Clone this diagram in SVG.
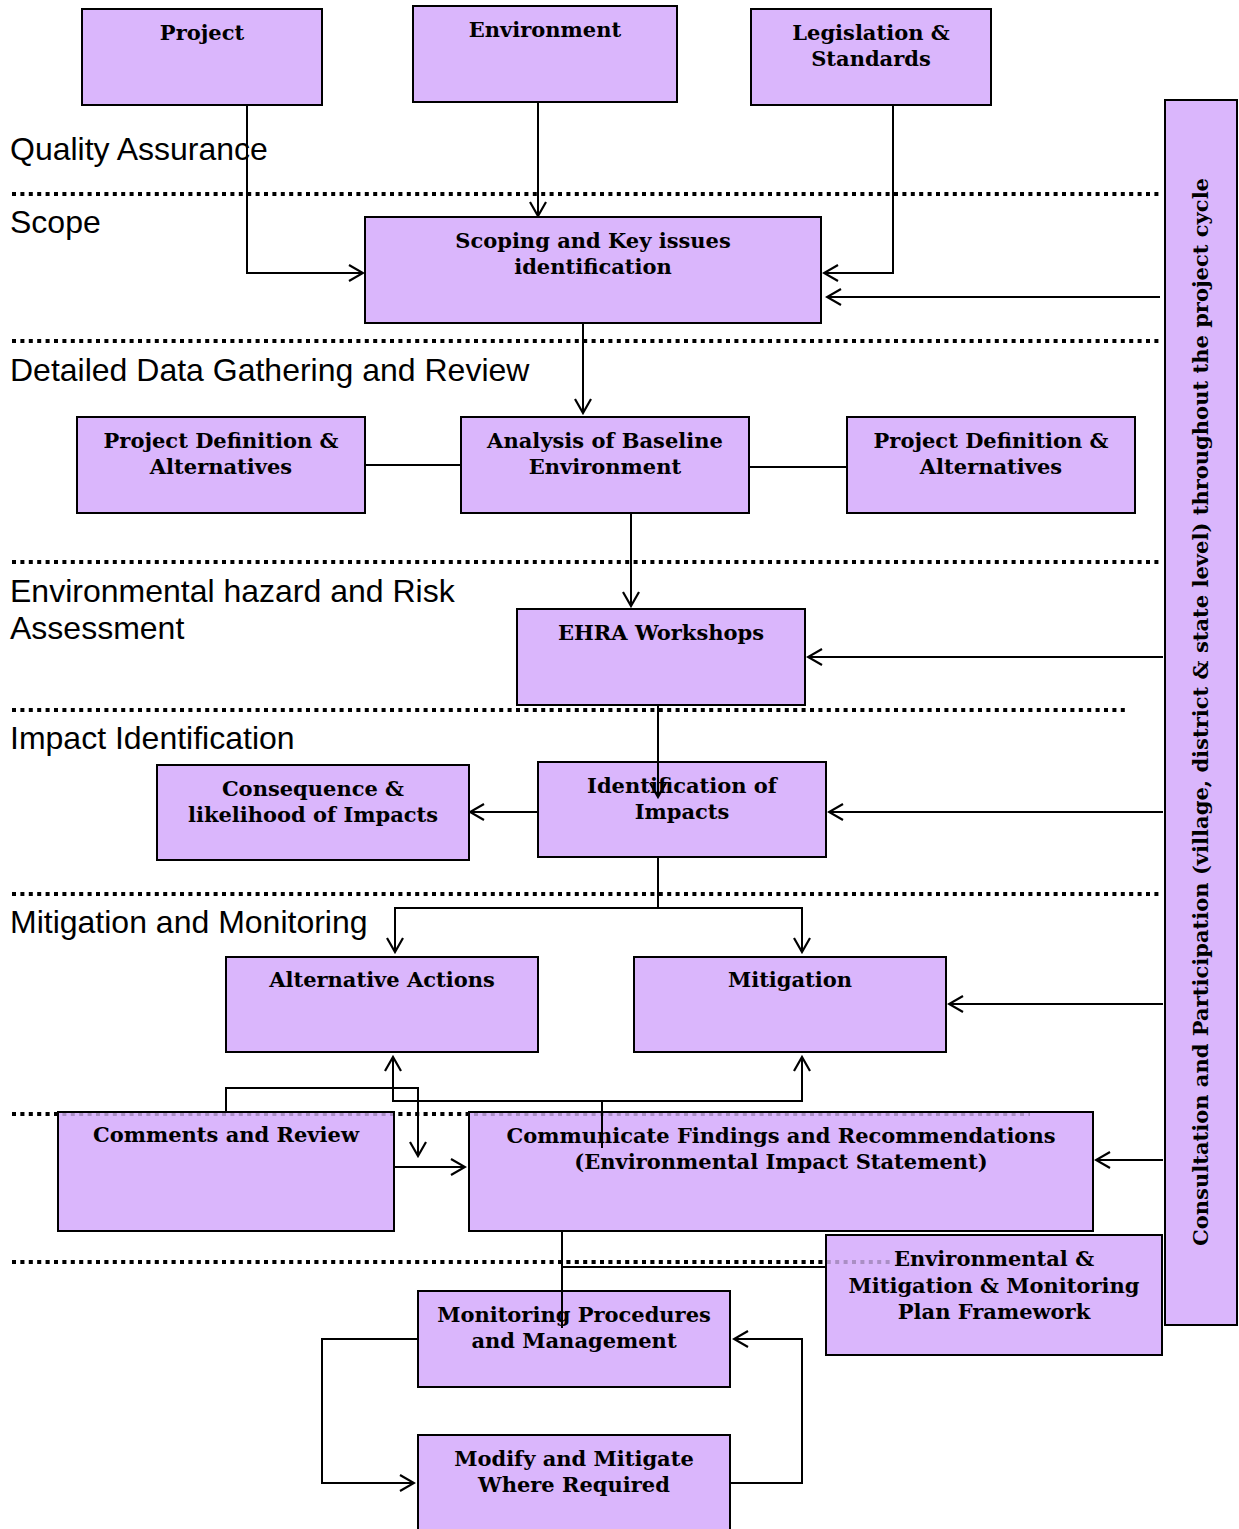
<svg xmlns="http://www.w3.org/2000/svg" width="1239" height="1529" viewBox="0 0 1239 1529">
<style>
.box{fill:#DAB6FC;stroke:#000;stroke-width:2}
.t{font-family:"DejaVu Serif","Liberation Serif",serif;font-weight:bold;font-size:21px;text-anchor:middle;fill:#000}
.lbl{font-family:"Liberation Sans",Arial,sans-serif;font-size:32px;fill:#000}
.dot{stroke:#000;stroke-width:4;stroke-dasharray:4 4.4;fill:none}
.dotl{stroke:#000;stroke-opacity:0.22;stroke-width:4;stroke-dasharray:4 4.4;fill:none}
.c{stroke:#000;stroke-width:2;fill:none}
.a{stroke:#000;stroke-width:2;fill:none;marker-end:url(#arr)}
</style>
<defs>
<marker id="arr" markerUnits="userSpaceOnUse" viewBox="-1 -10 17 20" refX="14" refY="0" markerWidth="17" markerHeight="20" orient="auto">
<path d="M0,-8 L14,0 L0,8" fill="none" stroke="#000" stroke-width="2.2"/>
</marker>
</defs>
<rect width="1239" height="1529" fill="#fff"/>
<g id="lanes">
<line class="dot" x1="12" y1="194" x2="1160" y2="194"/>
<line class="dot" x1="12" y1="341" x2="1160" y2="341"/>
<line class="dot" x1="12" y1="562" x2="1160" y2="562"/>
<line class="dot" x1="12" y1="710" x2="1127" y2="710"/>
<line class="dot" x1="12" y1="894" x2="1160" y2="894"/>
<line class="dot" x1="12" y1="1114" x2="1030" y2="1114"/>
<line class="dot" x1="12" y1="1262" x2="890" y2="1262"/>
<text class="lbl" x="10" y="160">Quality Assurance</text>
<text class="lbl" x="10" y="233">Scope</text>
<text class="lbl" x="10" y="381">Detailed Data Gathering and Review</text>
<text class="lbl" x="10" y="602">Environmental hazard and Risk</text>
<text class="lbl" x="10" y="639">Assessment</text>
<text class="lbl" x="10" y="749">Impact Identification</text>
<text class="lbl" x="10" y="933">Mitigation and Monitoring</text>
</g>
<g id="n-project"><rect class="box" x="82" y="9" width="240" height="96"/><text class="t" x="202" y="40">Project</text></g>
<g id="n-environment"><rect class="box" x="413" y="6" width="264" height="96"/><text class="t" x="545" y="37">Environment</text></g>
<g id="n-legislation"><rect class="box" x="751" y="9" width="240" height="96"/><text class="t" x="871" y="40">Legislation &amp;</text><text class="t" x="871" y="66">Standards</text></g>
<g id="n-consultation"><rect class="box" x="1165" y="100" width="72" height="1225"/><text class="t" transform="translate(1208,712) rotate(-90)" x="0" y="0" textLength="1068" lengthAdjust="spacingAndGlyphs">Consultation and Participation (village, district &amp; state level) throughout the project cycle</text></g>
<g id="n-scoping"><rect class="box" x="365" y="217" width="456" height="106"/><text class="t" x="593" y="248">Scoping and Key issues</text><text class="t" x="593" y="274">identification</text></g>
<g id="n-pdleft"><rect class="box" x="77" y="417" width="288" height="96"/><text class="t" x="221" y="448">Project Definition &amp;</text><text class="t" x="221" y="474">Alternatives</text></g>
<g id="n-analysis"><rect class="box" x="461" y="417" width="288" height="96"/><text class="t" x="605" y="448">Analysis of Baseline</text><text class="t" x="605" y="474">Environment</text></g>
<g id="n-pdright"><rect class="box" x="847" y="417" width="288" height="96"/><text class="t" x="991" y="448">Project Definition &amp;</text><text class="t" x="991" y="474">Alternatives</text></g>
<g id="n-ehra"><rect class="box" x="517" y="609" width="288" height="96"/><text class="t" x="661" y="640">EHRA Workshops</text></g>
<g id="n-consequence"><rect class="box" x="157" y="765" width="312" height="95"/><text class="t" x="313" y="796">Consequence &amp;</text><text class="t" x="313" y="822">likelihood of Impacts</text></g>
<g id="n-identification"><rect class="box" x="538" y="762" width="288" height="95"/><text class="t" x="682" y="793">Identification of</text><text class="t" x="682" y="819">Impacts</text></g>
<g id="n-alternative"><rect class="box" x="226" y="957" width="312" height="95"/><text class="t" x="382" y="987">Alternative Actions</text></g>
<g id="n-mitigation"><rect class="box" x="634" y="957" width="312" height="95"/><text class="t" x="790" y="987">Mitigation</text></g>
<g id="n-comments"><rect class="box" x="58" y="1112" width="336" height="119"/><text class="t" x="226" y="1142">Comments and Review</text></g>
<g id="n-communicate"><rect class="box" x="469" y="1112" width="624" height="119"/><text class="t" x="781" y="1143">Communicate Findings and Recommendations</text><text class="t" x="781" y="1169">(Environmental Impact Statement)</text></g>
<g id="n-envplan"><rect class="box" x="826" y="1235" width="336" height="120"/><text class="t" x="994" y="1266">Environmental &amp;</text><text class="t" x="994" y="1293">Mitigation &amp; Monitoring</text><text class="t" x="994" y="1319">Plan Framework</text></g>
<g id="n-monitoring"><rect class="box" x="418" y="1291" width="312" height="96"/><text class="t" x="574" y="1322">Monitoring Procedures</text><text class="t" x="574" y="1348">and Management</text></g>
<g id="n-modify"><rect class="box" x="418" y="1435" width="312" height="100"/><text class="t" x="574" y="1466">Modify and Mitigate</text><text class="t" x="574" y="1492">Where Required</text></g>
<g id="overdots">
<line class="dotl" x1="12" y1="1114" x2="1030" y2="1114"/>
<line class="dotl" x1="12" y1="1262" x2="890" y2="1262"/>
</g>
<g id="connectors">
<path class="a" d="M247,105 V273 H363"/>
<path class="a" d="M538,102 V216"/>
<path class="a" d="M893,105 V273 H824"/>
<path class="a" d="M1160,297 H827"/>
<path class="a" d="M583,323 V413"/>
<path class="c" d="M365,465 H461"/>
<path class="c" d="M749,467 H847"/>
<path class="a" d="M631,513 V606"/>
<path class="a" d="M1163,657 H808"/>
<path class="a" d="M658,705 V797"/>
<path class="a" d="M538,812 H470"/>
<path class="a" d="M1163,812 H829"/>
<path class="c" d="M658,857 V908"/>
<path class="a" d="M658,908 H395 V952"/>
<path class="a" d="M658,908 H802 V952"/>
<path class="a" d="M1163,1004 H949"/>
<path class="a" d="M226,1112 V1088 H418 V1156"/>
<path class="c" d="M602,1148 V1101"/>
<path class="a" d="M602,1101 H393 V1057"/>
<path class="a" d="M602,1101 H802 V1057"/>
<path class="a" d="M395,1167 H465"/>
<path class="a" d="M1163,1160 H1096"/>
<path class="c" d="M562,1231 V1328"/>
<path class="c" d="M562,1267 H826"/>
<path class="a" d="M418,1339 H322 V1483 H414"/>
<path class="a" d="M730,1483 H802 V1339 H734"/>
</g>
</svg>
